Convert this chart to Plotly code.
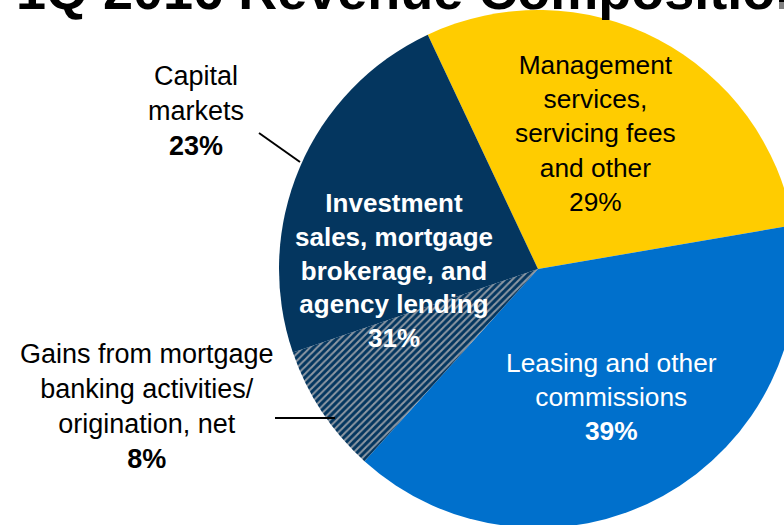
import plotly.graph_objects as go

# revenue composition, 1Q 2016 (percent of total)
slice_labels = [
    "Management services, servicing fees and other",
    "Leasing and other commissions",
    "Gains from mortgage banking activities/ origination, net",
    "Capital markets",
]
slice_values = [29, 39, 8, 23]
slice_colors = ["#FFCC00", "#0070CC", "#04365F", "#04365F"]
slice_patterns = ["", "", "/", ""]

group_label = "Investment sales, mortgage brokerage, and agency lending"
group_value = slice_values[2] + slice_values[3]

title_text = "1Q 2016 Revenue Composition"

# figure is a bit bigger than the window so the pie runs off the edges
W, H = 840, 560
FONT = "Liberation Sans, Arial, sans-serif"


def px(x, y):
    return x / W, 1 - y / H


cx, cy, R = 538, 269, 259

fig = go.Figure()
fig.add_trace(
    go.Pie(
        labels=slice_labels,
        values=slice_values,
        sort=False,
        direction="clockwise",
        rotation=-25.2,
        textinfo="none",
        showlegend=False,
        marker=dict(
            colors=slice_colors,
            line=dict(width=0),
            pattern=dict(shape=slice_patterns, fgcolor="#8E98A3", bgcolor="#04365F",
                         size=5, solidity=0.4),
        ),
        domain=dict(x=[(cx - R) / W, (cx + R) / W], y=[1 - (cy + R) / H, 1 - (cy - R) / H]),
    )
)


def add_label(x, y, text, color, size=27):
    ax, ay = px(x, y)
    fig.add_annotation(
        x=ax, y=ay, xref="paper", yref="paper", text=text, showarrow=False,
        xanchor="center", yanchor="middle", align="center",
        font=dict(family=FONT, size=size, color=color),
    )


add_label(595, 133, "Management<br>services,<br>servicing fees<br>and other<br>%d%%" % slice_values[0], "#000000", 26.3)
add_label(611, 397, "Leasing and other<br>commissions<br><b>%d%%</b>" % slice_values[1], "#FFFFFF", 26.3)
add_label(394, 270, "<b>Investment<br>sales, mortgage<br>brokerage, and<br>agency lending<br>%d%%</b>" % group_value, "#FFFFFF", 26)
add_label(196, 111, "Capital<br>markets<br><b>%d%%</b>" % slice_values[3], "#000000")
add_label(147, 406, "Gains from mortgage<br>banking activities/<br>origination, net<br><b>%d%%</b>" % slice_values[2], "#000000")

# title, cut off by the top of the page
tx, ty = px(14, 22)
fig.add_annotation(
    x=tx, y=ty, xref="paper", yref="paper", text="<b>%s</b>" % title_text, showarrow=False,
    xanchor="left", yanchor="bottom", font=dict(family=FONT, size=54, color="#000000"),
)

# leader lines
for (x0, y0), (x1, y1) in [((259, 133), (300, 162)), ((275, 418), (335, 418))]:
    a0, b0 = px(x0, y0)
    a1, b1 = px(x1, y1)
    fig.add_shape(type="line", xref="paper", yref="paper", x0=a0, y0=b0, x1=a1, y1=b1,
                  line=dict(color="#000000", width=2))

fig.update_layout(
    width=W,
    height=H,
    margin=dict(l=0, r=0, t=0, b=0),
    paper_bgcolor="#FFFFFF",
    plot_bgcolor="#FFFFFF",
)

fig.write_html(
    "out.html",
    post_script="document.body.style.margin='0';document.body.style.overflow='hidden';",
)
